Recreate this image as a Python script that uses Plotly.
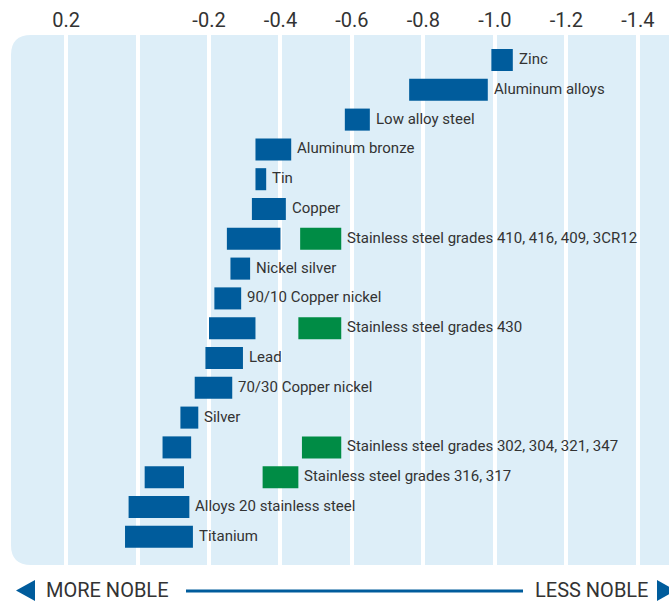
import plotly.graph_objects as go

# ---- data (volts vs. reference) ----
rows = [
    "Zinc", "Aluminum alloys", "Low alloy steel", "Aluminum bronze", "Tin",
    "Copper", "Stainless steel grades 410, 416, 409, 3CR12", "Nickel silver",
    "90/10 Copper nickel", "Stainless steel grades 430", "Lead",
    "70/30 Copper nickel", "Silver", "Stainless steel grades 302, 304, 321, 347",
    "Stainless steel grades 316, 317", "Alloys 20 stainless steel", "Titanium",
]
active_hi = [-0.99, -0.76, -0.58, -0.33, -0.33, -0.32, -0.25, -0.26, -0.215,
             -0.20, -0.19, -0.16, -0.12, -0.07, -0.02, 0.025, 0.035]
active_lo = [-1.05, -0.98, -0.65, -0.43, -0.36, -0.415, -0.40, -0.315, -0.29,
             -0.33, -0.295, -0.265, -0.17, -0.15, -0.13, -0.145, -0.155]
passive_rows = ["Stainless steel grades 410, 416, 409, 3CR12",
                "Stainless steel grades 430",
                "Stainless steel grades 302, 304, 321, 347",
                "Stainless steel grades 316, 317"]
passive_hi = [-0.455, -0.45, -0.46, -0.35]
passive_lo = [-0.57, -0.57, -0.57, -0.45]

tick_vals = [0.2, 0.0, -0.2, -0.4, -0.6, -0.8, -1.0, -1.2, -1.4]
tick_text = ["0.2", "", "-0.2", "-0.4", "-0.6", "-0.8", "-1.0", "-1.2", "-1.4"]

BLUE = "#005C9C"
GREEN = "#008C45"
PANEL = "#DDEEF8"
TXT = "#333333"
FONT = "Roboto"

# label position: far (more negative) end of each row
label_x = []
for r, lo in zip(rows, active_lo):
    if r in passive_rows:
        label_x.append(passive_lo[passive_rows.index(r)])
    else:
        label_x.append(lo)

fig = go.Figure()
fig.add_trace(go.Bar(
    y=rows, x=[lo - hi for hi, lo in zip(active_hi, active_lo)], base=active_hi,
    orientation="h", marker=dict(color=BLUE, line=dict(width=0)), width=0.74,
    showlegend=False, hoverinfo="skip"))
fig.add_trace(go.Bar(
    y=passive_rows, x=[lo - hi for hi, lo in zip(passive_hi, passive_lo)], base=passive_hi,
    orientation="h", marker=dict(color=GREEN, line=dict(width=0)), width=0.74,
    showlegend=False, hoverinfo="skip"))

W, H = 669, 601
L, R, T, B = 11, 0, 35, 36
pw, ph = W - L - R, H - T - B

def px(x):
    return (x - L) / pw

def py(y):
    return (H - B - y) / ph

rad_x, rad_y = 20 / pw, 20 / ph
panel_path = (f"M {rad_x},0 L 1.2,0 L 1.2,1 L {rad_x},1 "
              f"Q 0,1 0,{1 - rad_y} L 0,{rad_y} Q 0,0 {rad_x},0 Z")

shapes = [
    dict(type="path", xref="paper", yref="paper", path=panel_path,
         fillcolor=PANEL, line=dict(width=0), layer="below"),
    dict(type="line", xref="paper", yref="paper", x0=px(186), x1=px(523),
         y0=py(591), y1=py(591), line=dict(color=BLUE, width=3)),
    dict(type="path", xref="paper", yref="paper",
         path=f"M {px(16)},{py(590.5)} L {px(35)},{py(580)} L {px(35)},{py(601)} Z",
         fillcolor=BLUE, line=dict(width=0)),
    dict(type="path", xref="paper", yref="paper",
         path=f"M {px(676)},{py(590.5)} L {px(657)},{py(580)} L {px(657)},{py(601)} Z",
         fillcolor=BLUE, line=dict(width=0)),
]

annotations = [
    dict(xref="x", yref="y", x=lx, y=r, text=r, xanchor="left", yanchor="middle",
         xshift=4, yshift=1, showarrow=False,
         font=dict(family=FONT, size=15, color=TXT))
    for r, lx in zip(rows, label_x)
]
annotations += [
    dict(xref="paper", yref="paper", x=px(44), y=py(590), xanchor="left", yanchor="middle",
         text="MORE NOBLE", showarrow=False,
         font=dict(family=FONT, size=20, color=TXT)),
    dict(xref="paper", yref="paper", x=px(650), y=py(590), xanchor="right", yanchor="middle",
         text="LESS NOBLE", showarrow=False,
         font=dict(family=FONT, size=20, color=TXT)),
]

fig.update_layout(
    width=W, height=H,
    margin=dict(l=L, r=R, t=T, b=B, pad=0),
    paper_bgcolor="white", plot_bgcolor="rgba(0,0,0,0)",
    barmode="overlay",
    shapes=shapes, annotations=annotations,
    xaxis=dict(range=[0.354, -1.487], side="top", tickvals=tick_vals, ticktext=tick_text,
               showgrid=True, gridcolor="white", gridwidth=4, zeroline=False,
               showline=False, ticks="", ticklabelstandoff=3,
               tickfont=dict(family=FONT, size=20, color=TXT)),
    yaxis=dict(type="category", categoryorder="array", categoryarray=rows,
               range=[16.946, -0.839], showticklabels=False, showgrid=False,
               zeroline=False, showline=False, ticks=""),
)

fig.write_html("out.html")
